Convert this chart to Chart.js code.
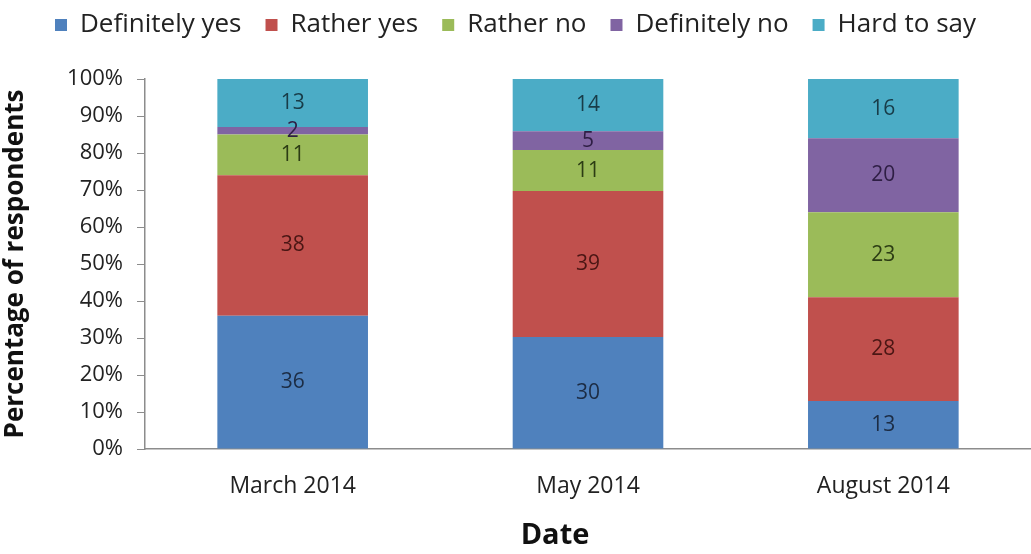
<!DOCTYPE html>
<html lang="en">
  <head>
    <meta charset="UTF-8" />
    <title>Survey answers by date</title>
    <script src="https://cdn.jsdelivr.net/npm/chart.js@4"></script>
    <style>
      html, body { margin: 0; padding: 0; background: #fff; }
      #wrap { position: relative; width: 1031px; height: 554px; }
    </style>
  </head>
  <body>
    <div id="wrap"><canvas id="answersChart"></canvas></div>
    <script>
      const dates = ["March 2014", "May 2014", "August 2014"];
      const answers = ["Definitely yes", "Rather yes", "Rather no", "Definitely no", "Hard to say"];
      const definitelyYes = [36, 30, 13];
      const ratherYes = [38, 39, 28];
      const ratherNo = [11, 11, 23];
      const definitelyNo = [2, 5, 20];
      const hardToSay = [13, 14, 16];
      const yTicks = ["0%", "10%", "20%", "30%", "40%", "50%", "60%", "70%", "80%", "90%", "100%"];
      const xTitle = "Date";

      const colors = ["#4F81BD", "#C0504D", "#9BBB59", "#8064A2", "#4BACC6"];
      const labelColors = ["#1c2c44", "#4a1614", "#2c3c14", "#2e1e44", "#183c48"];
      const FONT = "'Open Sans', sans-serif";

      const series = [definitelyYes, ratherYes, ratherNo, definitelyNo, hardToSay];
      // each column is shown as a share of its own total (100% stacked)
      const totals = dates.map((_, i) => series.reduce((s, arr) => s + arr[i], 0));

      // writes the raw answer count in the middle of each segment
      const segmentLabels = {
        id: "segmentLabels",
        afterDatasetsDraw(chart) {
          const ctx = chart.ctx;
          ctx.save();
          ctx.font = "21px " + FONT;
          ctx.textAlign = "center";
          ctx.textBaseline = "middle";
          chart.data.datasets.forEach((ds, di) => {
            const meta = chart.getDatasetMeta(di);
            meta.data.forEach((bar, i) => {
              const mid = (bar.y + bar.base) / 2;
              ctx.fillStyle = labelColors[di];
              ctx.fillText(String(ds.raw[i]), bar.x, mid);
            });
          });
          ctx.restore();
        },
      };

      // x axis title sits a bit left of the plot centre
      const dateTitle = {
        id: "dateTitle",
        afterDraw(chart) {
          const ctx = chart.ctx;
          ctx.save();
          ctx.font = "bold 29px " + FONT;
          ctx.fillStyle = "#111";
          ctx.textAlign = "center";
          ctx.textBaseline = "middle";
          ctx.fillText(xTitle, 555, 536);
          ctx.restore();
        },
      };

      // fixed legend band, legend row pulled up a little
      const legendBand = {
        id: "legendBand",
        beforeInit(chart) {
          const fit = chart.legend.fit;
          chart.legend.fit = function () {
            fit.bind(chart.legend)();
            this.height = 79;
          };
        },
        beforeDraw(chart) {
          chart.legend.top = -12;
        },
      };

      new Chart(document.getElementById("answersChart"), {
        type: "bar",
        data: {
          labels: dates,
          datasets: answers.map((name, k) => ({
            label: name,
            raw: series[k],
            data: series[k].map((v, i) => (v / totals[i]) * 100),
            backgroundColor: colors[k],
            borderWidth: 0,
            barPercentage: 0.51,
            categoryPercentage: 1,
          })),
        },
        options: {
          responsive: true,
          maintainAspectRatio: false,
          animation: false,
          layout: { padding: 0 },
          plugins: {
            legend: {
              position: "top",
              labels: {
                boxWidth: 12,
                boxHeight: 12,
                padding: 24,
                color: "#222",
                font: { family: FONT, size: 26 },
              },
            },
            tooltip: { enabled: false },
          },
          scales: {
            x: {
              stacked: true,
              grid: { display: false, drawTicks: false },
              border: { color: "#8c8c8c", width: 1.5 },
              ticks: { padding: 24, color: "#222", font: { family: FONT, size: 23 } },
              afterFit(scale) { scale.height = 105; },
            },
            y: {
              stacked: true,
              min: 0,
              max: 100,
              grid: { drawOnChartArea: false, tickLength: 8, color: "#8c8c8c" },
              border: { color: "#8c8c8c", width: 1.5 },
              ticks: {
                stepSize: 10,
                padding: 14,
                color: "#222",
                font: { family: FONT, size: 22 },
                callback: (v) => yTicks[Math.round(v / 10)],
              },
              title: {
                display: true,
                text: "Percentage of respondents",
                color: "#111",
                font: { family: FONT, size: 26, weight: "bold" },
                padding: { top: 0, bottom: 4 },
              },
              afterFit(scale) { scale.width = 145; },
            },
          },
        },
        plugins: [segmentLabels, dateTitle, legendBand],
      });
    </script>
  </body>
</html>
